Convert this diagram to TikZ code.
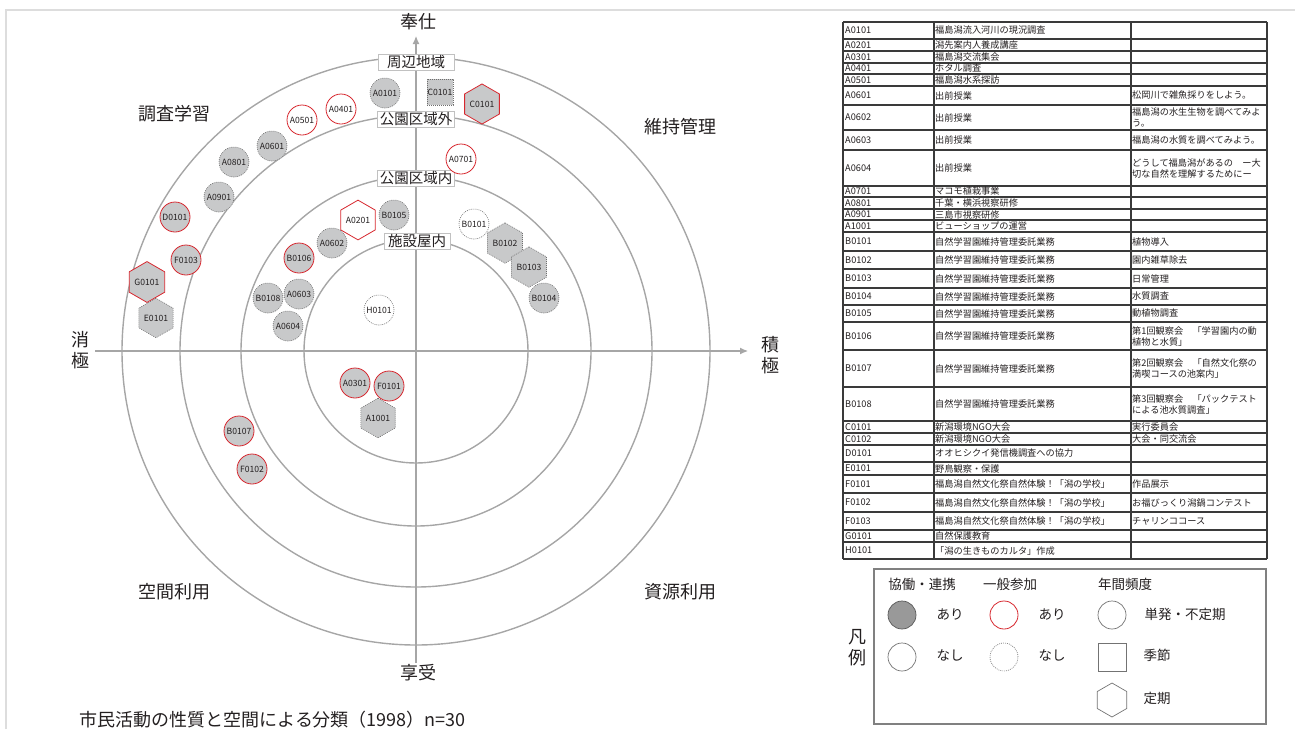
\documentclass[tikz,border=0pt]{standalone}
\usepackage{fontspec}
\setmainfont{Noto Sans CJK JP}
\usetikzlibrary{shapes.geometric,arrows.meta}
\definecolor{ringgray}{HTML}{A6A6A6}
\definecolor{nodegray}{HTML}{C8C9CA}
\definecolor{nodered}{HTML}{D7282F}
\definecolor{dotgray}{HTML}{6E6E6E}
\definecolor{framegray}{HTML}{DDDDDD}
\definecolor{tabline}{HTML}{3A3A3A}
\definecolor{txt}{HTML}{231F20}
\newcommand{\fs}[1]{\fontsize{#1}{#1}\selectfont}
\newcommand{\trow}[5]{%
  \draw[tab] (843,#2) -- (1267,#2);
  \node[tabtxt] (i#3) at (845,{(#1+#2)/2}) {#3};
  \node[tabtxt] (n#3) at (935,{(#1+#2)/2}) {#4};
  \if\relax\detokenize{#5}\relax\else
  \node[tabtxt] (d#3) at (1132,{(#1+#2)/2}) {#5};
  \fi}
\tikzset{
  ring/.style={draw=ringgray, line width=1.4pt},
  axisline/.style={draw=ringgray, line width=1.1pt},
  act/.style={circle, minimum size=30pt, inner sep=0pt, font=\fs{8.6}, text=txt},
  hexa/.style={regular polygon, regular polygon sides=6, shape border rotate=30, minimum size=32pt, inner sep=0pt, font=\fs{8.6}, text=txt},
  squa/.style={rectangle, minimum size=26pt, inner sep=0pt, font=\fs{8.6}, text=txt},
  gf/.style={fill=nodegray},
  wf/.style={fill=white},
  rb/.style={draw=nodered, line width=0.8pt},
  db/.style={draw=dotgray, line width=0.6pt, dash pattern=on 0.9pt off 1.1pt},
  ringlabel/.style={fill=white, draw=ringgray!70, line width=0.6pt, font=\fs{14.5}, text=txt, inner xsep=2pt, inner ysep=1pt, minimum height=16pt, minimum width=76pt},
  big/.style={font=\fs{18}, text=txt},
  bigv/.style={font=\fontsize{18}{21}\selectfont, text=txt, align=center},
  tab/.style={draw=tabline, line width=1.3pt},
  tabtxt/.style={anchor=west, inner sep=0pt, font=\fontsize{9.2}{11}\selectfont, text=txt, align=left},
  lgtxt/.style={font=\fs{13.5}, text=txt},
  lgshape/.style={minimum size=28pt, inner sep=0pt},
}
\begin{document}
\begin{tikzpicture}[x=1pt,y=-1pt]
\useasboundingbox (0,0) rectangle (1295,729);
% frame
\draw[framegray, line width=2pt] (6,729) -- (6,10.3) -- (1295,10.3);
% rings
\coordinate (O) at (416,351);
\draw[ring] (O) circle[radius=112pt];
\draw[ring] (O) circle[radius=175pt];
\draw[ring] (O) circle[radius=236pt];
\draw[ring] (O) circle[radius=294pt];
% axes
\coordinate (top) at (416,36);
\coordinate (bot) at (416,663);
\coordinate (lft) at (95,351);
\coordinate (rgt) at (748,351);
\draw[axisline,-{Latex[length=8pt,width=7pt]}] (bot) -- (top);
\draw[axisline,-{Latex[length=8pt,width=7pt]}] (lft) -- (rgt);
% axis labels
\node[big] (hoshi) at (418,22) {奉仕};
\node[big] (kyoju) at (418,673) {享受};
\node[bigv] (shokyoku) at (80,350) {消\\極};
\node[bigv] (sekkyoku) at (770,355) {積\\極};
% quadrant labels
\node[big] (q1) at (174,114) {調査学習};
\node[big] (q2) at (680,127) {維持管理};
\node[big] (q3) at (174,592) {空間利用};
\node[big] (q4) at (680,592) {資源利用};
% ring labels
\node[ringlabel] (r4) at (416,62.5) {周辺地域};
\node[ringlabel] (r3) at (416,119.5) {公園区域外};
\node[ringlabel] (r2) at (416,178.5) {公園区域内};
\node[ringlabel, minimum width=66pt] (r1) at (417,241) {施設屋内};
% activities
\node[act,gf,db] (A0101) at (385,93) {A0101};
\node[squa,gf,db] (C0101sq) at (440,92) {C0101};
\node[hexa,gf,rb] (C0101hx) at (482,104) {C0101};
\node[act,wf,rb] (A0401) at (341,109) {A0401};
\node[act,wf,rb] (A0501) at (302,120) {A0501};
\node[act,gf,db] (A0601) at (272,146) {A0601};
\node[act,gf,db] (A0801) at (234,162) {A0801};
\node[act,gf,db] (A0901) at (219,197) {A0901};
\node[act,gf,rb] (D0101) at (175,217) {D0101};
\node[act,wf,rb] (A0701) at (461,159) {A0701};
\node[hexa,wf,rb] (A0201) at (358,220) {A0201};
\node[act,gf,db] (B0105) at (394,215) {B0105};
\node[act,wf,db] (B0101) at (474,224) {B0101};
\node[act,gf,rb] (F0103) at (186,260) {F0103};
\node[hexa,gf,rb] (G0101) at (147,282) {G0101};
\node[hexa,gf,db] (E0101) at (156,318) {E0101};
\node[act,gf,db] (A0602) at (332,243) {A0602};
\node[act,gf,rb] (B0106) at (299,258) {B0106};
\node[act,gf,db] (B0108) at (268,298) {B0108};
\node[act,gf,db] (A0603) at (299,294) {A0603};
\node[act,gf,db] (A0604) at (288,326) {A0604};
\node[act,wf,db] (H0101) at (379,310) {H0101};
\node[hexa,gf,db] (B0102) at (505,243) {B0102};
\node[hexa,gf,db] (B0103) at (529,267) {B0103};
\node[act,gf,db] (B0104) at (544,298) {B0104};
\node[act,gf,rb] (A0301) at (355,383) {A0301};
\node[act,gf,rb] (F0101) at (389,386) {F0101};
\node[hexa,gf,db] (A1001) at (378,418) {A1001};
\node[act,gf,rb] (B0107) at (239,431) {B0107};
\node[act,gf,rb] (F0102) at (252,469) {F0102};
% caption
\node[big, anchor=west] (caption) at (76,720) {市民活動の性質と空間による分類（1998）n=30};
% table
\draw[tab] (843,22) -- (1267,22);
\trow{22}{39}{A0101}{福島潟流入河川の現況調査}{}
\trow{39}{51}{A0201}{潟先案内人養成講座}{}
\trow{51}{63}{A0301}{福島潟交流集会}{}
\trow{63}{74}{A0401}{ホタル調査}{}
\trow{74}{86}{A0501}{福島潟水系探訪}{}
\trow{86}{105}{A0601}{出前授業}{松岡川で雑魚採りをしよう。}
\trow{105}{130}{A0602}{出前授業}{福島潟の水生生物を調べてみよ\\う。}
\trow{130}{150}{A0603}{出前授業}{福島潟の水質を調べてみよう。}
\trow{150}{186}{A0604}{出前授業}{どうして福島潟があるの　ー大\\切な自然を理解するためにー}
\trow{186}{197}{A0701}{マコモ植栽事業}{}
\trow{197}{209}{A0801}{千葉・横浜視察研修}{}
\trow{209}{220}{A0901}{三島市視察研修}{}
\trow{220}{232}{A1001}{ビューショップの運営}{}
\trow{232}{251}{B0101}{自然学習園維持管理委託業務}{植物導入}
\trow{251}{269}{B0102}{自然学習園維持管理委託業務}{園内雑草除去}
\trow{269}{288}{B0103}{自然学習園維持管理委託業務}{日常管理}
\trow{288}{305}{B0104}{自然学習園維持管理委託業務}{水質調査}
\trow{305}{322}{B0105}{自然学習園維持管理委託業務}{動植物調査}
\trow{322}{350}{B0106}{自然学習園維持管理委託業務}{第1回観察会　「学習園内の動\\植物と水質」}
\trow{350}{387}{B0107}{自然学習園維持管理委託業務}{第2回観察会　「自然文化祭の\\満喫コースの池案内」}
\trow{387}{421}{B0108}{自然学習園維持管理委託業務}{第3回観察会　「パックテスト\\による池水質調査」}
\trow{421}{433}{C0101}{新潟環境NGO大会}{実行委員会}
\trow{433}{445}{C0102}{新潟環境NGO大会}{大会・同交流会}
\trow{445}{462}{D0101}{オオヒシクイ発信機調査への協力}{}
\trow{462}{475}{E0101}{野鳥観察・保護}{}
\trow{475}{493}{F0101}{福島潟自然文化祭自然体験！「潟の学校」}{作品展示}
\trow{493}{512}{F0102}{福島潟自然文化祭自然体験！「潟の学校」}{お福びっくり潟鍋コンテスト}
\trow{512}{530}{F0103}{福島潟自然文化祭自然体験！「潟の学校」}{チャリンココース}
\trow{530}{542}{G0101}{自然保護教育}{}
\trow{542}{559}{H0101}{「潟の生きものカルタ」作成}{}
\draw[tab] (843,22) -- (843,559);
\draw[tab] (934,22) -- (934,559);
\draw[tab] (1131,22) -- (1131,559);
\draw[tab] (1267,22) -- (1267,559);
% legend
\draw[draw=black!50, line width=1.5pt] (874,569) rectangle (1266,724);
\node[bigv] (hanrei) at (857,648) {凡\\例};
\node[lgtxt] (lh1) at (922,584) {協働・連携};
\node[lgtxt] (lh2) at (1010,584) {一般参加};
\node[lgtxt] (lh3) at (1125,584) {年間頻度};
\node[lgshape, circle, fill=black!40, draw=black!65, line width=0.7pt] (lg1) at (902,615) {};
\node[lgshape, circle, fill=white, draw=black!55, line width=0.7pt] (lg2) at (902,657) {};
\node[lgshape, circle, fill=white, rb] (lg3) at (1004,615) {};
\node[lgshape, circle, fill=white, db] (lg4) at (1004,657) {};
\node[lgshape, circle, fill=white, draw=black!55, line width=0.7pt] (lg5) at (1112,615) {};
\node[lgshape, rectangle, fill=white, draw=black!55, line width=0.7pt] (lg6) at (1112.5,657.5) {};
\node[regular polygon, regular polygon sides=6, shape border rotate=30, minimum size=34pt, inner sep=0pt, draw=black!55, line width=0.7pt] (lg7) at (1112,700) {};
\node[lgtxt] (lt1) at (950,614) {あり};
\node[lgtxt] (lt2) at (950,655) {なし};
\node[lgtxt] (lt3) at (1052,614) {あり};
\node[lgtxt] (lt4) at (1052,655) {なし};
\node[lgtxt] (lt5) at (1185,614) {単発・不定期};
\node[lgtxt] (lt6) at (1157,655) {季節};
\node[lgtxt] (lt7) at (1157,698) {定期};
\end{tikzpicture}
\end{document}
